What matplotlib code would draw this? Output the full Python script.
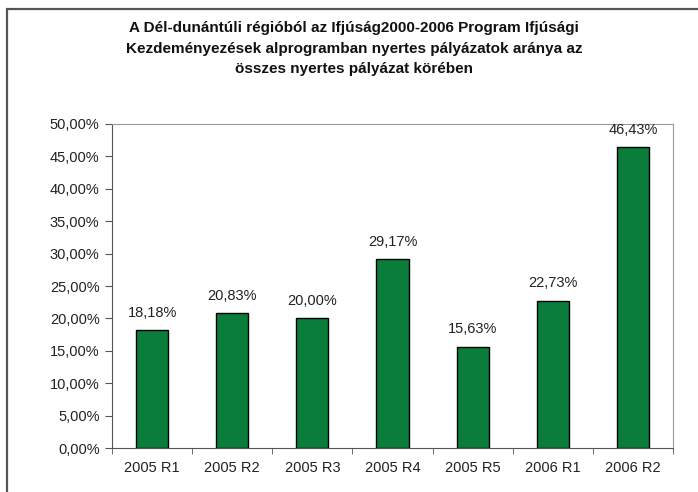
import numpy as np
import matplotlib.pyplot as plt
from matplotlib.patches import Rectangle
from matplotlib.ticker import FuncFormatter, FixedLocator

plt.rcParams['font.family'] = ['Liberation Sans', 'DejaVu Sans']

categories = ['2005 R1', '2005 R2', '2005 R3', '2005 R4', '2005 R5', '2006 R1', '2006 R2']
values = [18.18, 20.83, 20.00, 29.17, 15.63, 22.73, 46.43]
title = ('A Dél-dunántúli régióból az Ifjúság2000-2006 Program Ifjúsági\n'
         'Kezdeményezések alprogramban nyertes pályázatok aránya az\n'
         'összes nyertes pályázat körében')

fig = plt.figure(figsize=(6.98, 4.92), dpi=100)
# outer frame
fig.patches.append(Rectangle((7 / 698, -0.1), 1.2, 1 - 9 / 492 + 0.1,
                             transform=fig.transFigure, fill=False,
                             edgecolor='#555555', linewidth=1.6))

ax = fig.add_axes([112 / 698, 44 / 492, 561 / 698, 324 / 492])
x = np.arange(len(categories))
bars = ax.bar(x, values, width=0.4, color='#0b7d3b', edgecolor='black', linewidth=1.0)

for xi, v in zip(x, values):
    ax.text(xi, v + 1.6, f'{v:.2f}%'.replace('.', ','), ha='center', va='bottom',
            fontsize=10.5, color='#222222')

ax.set_xlim(-0.5, len(categories) - 0.5)
ax.set_ylim(0, 50)
ax.set_yticks(np.arange(0, 50.01, 5))
ax.yaxis.set_major_formatter(FuncFormatter(lambda v, p: f'{v:.2f}%'.replace('.', ',')))
ax.set_xticks(x)
ax.set_xticklabels(categories)
ax.xaxis.set_minor_locator(FixedLocator(np.arange(-0.5, len(categories), 1)))
ax.tick_params(axis='x', which='major', length=0, pad=9, labelsize=10.5, labelcolor='#222222')
ax.tick_params(axis='x', which='minor', length=4, color='#555555', direction='out')
ax.tick_params(axis='y', length=5, color='#555555', labelsize=10.5, labelcolor='#222222', pad=4)

for side in ['top', 'right']:
    ax.spines[side].set_color('#999999')
for side in ['left', 'bottom']:
    ax.spines[side].set_color('#555555')

fig.text(0.507, 1 - 48.5 / 492, title, ha='center', va='center', fontsize=11,
         fontweight='bold', linespacing=1.6, color='#111111')

fig.savefig('out.png', dpi=100)
